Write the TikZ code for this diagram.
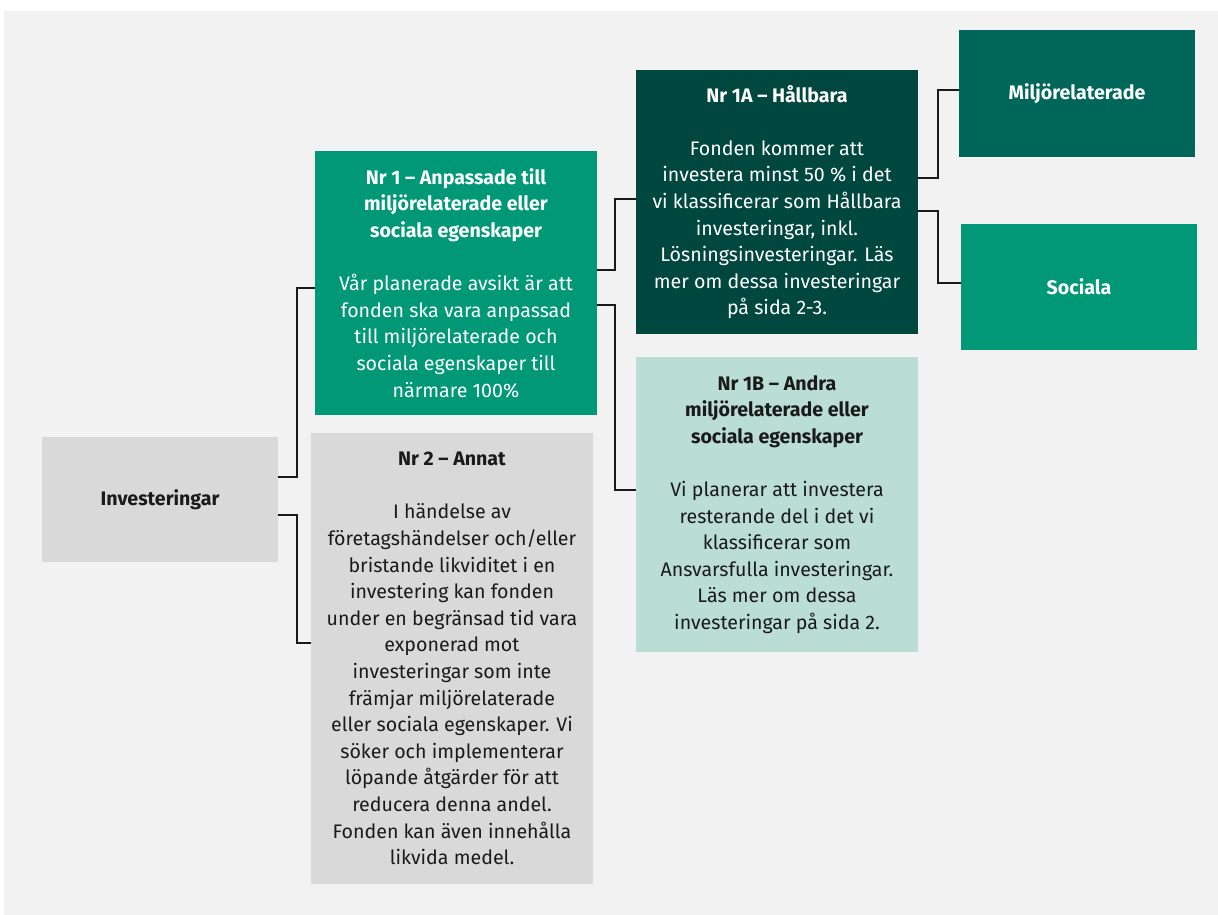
\documentclass[tikz,border=0pt]{standalone}
\usepackage{fontspec}
\setmainfont{Fira Sans}
\definecolor{bgc}{HTML}{F2F2F2}
\definecolor{lgray}{HTML}{D9D9D9}
\definecolor{gmid}{HTML}{009877}
\definecolor{gdark}{HTML}{00473F}
\definecolor{gmil}{HTML}{00665A}
\definecolor{glight}{HTML}{BADDD6}
\definecolor{txt}{HTML}{1A1A1A}
\begin{document}
\begin{tikzpicture}[x=1pt,y=-1pt,
  box/.style={rectangle, inner sep=0pt, outer sep=0pt, align=center,
    font=\fontsize{19.6}{26.6}\selectfont},
  wbox/.style={box, text=white},
  kbox/.style={box, text=txt},
  conn/.style={draw=black!90, line width=2.2pt}]
\useasboundingbox (0,0) rectangle (1218,915);
\fill[bgc] (4,11) rectangle (1218,915);

\node[kbox, fill=lgray, minimum width=236, minimum height=125] (inv) at (160,499.5)
  {\bfseries Investeringar};

\node[wbox, fill=gmid, minimum width=282, minimum height=264] (nr1) at (456,283)
  {\bfseries Nr 1 – Anpassade till\\ \bfseries miljörelaterade eller\\ \bfseries sociala egenskaper\\[26.6pt]
   Vår planerade avsikt är att\\ fonden ska vara anpassad\\ till miljörelaterade och\\
   sociala egenskaper till\\ närmare 100\%};

\node[kbox, fill=lgray, minimum width=282, minimum height=451] (nr2) at (452,658.5)
  {\bfseries Nr 2 – Annat\\[26.6pt]
   I händelse av\\ företagshändelser och/eller\\ bristande likviditet i en\\
   investering kan fonden\\ under en begränsad tid vara\\ exponerad mot\\
   investeringar som inte\\ främjar miljörelaterade\\ eller sociala egenskaper. Vi\\
   söker och implementerar\\ löpande åtgärder för att\\ reducera denna andel.\\
   Fonden kan även innehålla\\ likvida medel.};

\node[wbox, fill=gdark, minimum width=282, minimum height=264] (a1) at (777,202)
  {\bfseries Nr 1A – Hållbara\\[26.6pt]
   Fonden kommer att\\ investera minst 50 \% i det\\ vi klassificerar som Hållbara\\
   investeringar, inkl.\\ Lösningsinvesteringar. Läs\\ mer om dessa investeringar\\ på sida 2-3.};

\node[kbox, fill=glight, minimum width=282, minimum height=295] (b1) at (777,504.5)
  {\bfseries Nr 1B – Andra\\ \bfseries miljörelaterade eller\\ \bfseries sociala egenskaper\\[26.6pt]
   Vi planerar att investera\\ resterande del i det vi\\ klassificerar som\\
   Ansvarsfulla investeringar.\\ Läs mer om dessa\\ investeringar på sida 2.};

\node[wbox, fill=gmil, minimum width=236, minimum height=127] (mil) at (1077,93.5)
  {\bfseries Miljörelaterade};

\node[wbox, fill=gmid, minimum width=236, minimum height=126] (soc) at (1079,287)
  {\bfseries Sociala};

\draw[conn] (inv.east |- 0,477) -- (297,477) |- (nr1.west |- 0,288);
\draw[conn] (inv.east |- 0,515) -- (297,515) |- (nr2.west |- 0,643);
\draw[conn] (nr1.east |- 0,270) -- (615,270) |- (a1.west |- 0,199);
\draw[conn] (nr1.east |- 0,305) -- (615,305) |- (b1.west |- 0,490);
\draw[conn] (a1.east |- 0,178) -- (938,178) |- (mil.west |- 0,90);
\draw[conn] (a1.east |- 0,211) -- (938,211) |- (soc.west |- 0,283);
\end{tikzpicture}
\end{document}
